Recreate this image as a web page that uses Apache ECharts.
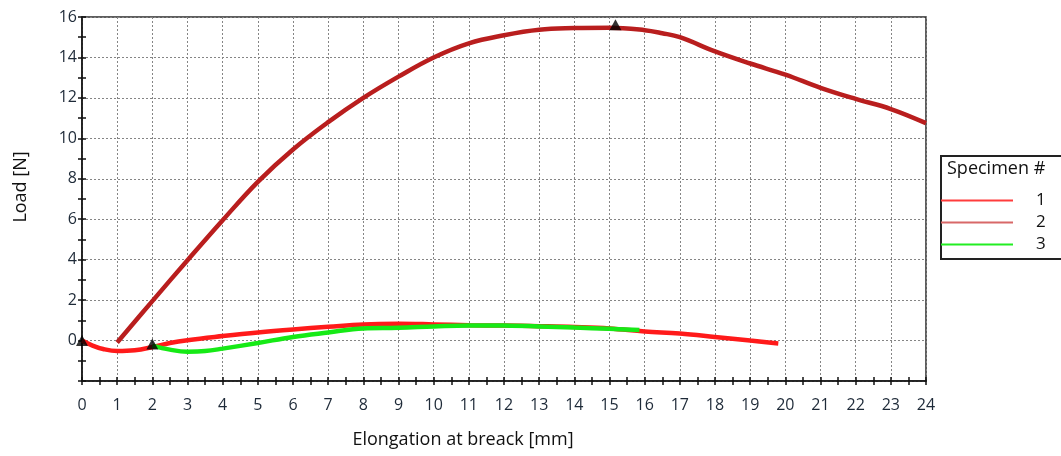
<!DOCTYPE html>
<html>
<head>
<meta charset="utf-8">
<script src="https://cdn.jsdelivr.net/npm/echarts@6/dist/echarts.min.js"></script>
<style>
  html, body { margin: 0; padding: 0; background: #fff; }
  #chart { width: 1061px; height: 456px; }
</style>
</head>
<body>
<div id="chart"></div>
<script>
// ---- data ----
const xTitle = 'Elongation at breack [mm]';
const yTitle = 'Load [N]';
const legendTitle = 'Specimen #';
const seriesNames = ['1', '2', '3'];

const specimen1 = [
  [0, 0], [0.3, -0.25], [0.6, -0.42], [1, -0.52], [1.5, -0.48], [2, -0.32], [2.5, -0.12],
  [3, 0.02], [4, 0.22], [5, 0.4], [6, 0.55], [7, 0.68], [8, 0.8], [9, 0.83], [10, 0.8],
  [11, 0.76], [12, 0.74], [13, 0.71], [14, 0.67], [15, 0.6], [16, 0.45], [17, 0.35],
  [18, 0.18], [19, 0.0], [19.8, -0.14]
];
const specimen2 = [
  [1, -0.1], [2, 1.95], [3, 3.97], [4, 5.95], [5, 7.85], [6, 9.45], [7, 10.8], [8, 12.0],
  [9, 13.05], [10, 14.0], [11, 14.7], [12, 15.1], [13, 15.37], [14, 15.45], [15, 15.47],
  [16, 15.35], [16.5, 15.2], [17, 15.0], [18, 14.3], [19, 13.7], [20, 13.15], [21, 12.5],
  [22, 11.95], [23, 11.45], [24, 10.75]
];
const specimen3 = [
  [2, -0.25], [2.5, -0.45], [3, -0.55], [3.5, -0.52], [4, -0.4], [5, -0.12], [6, 0.18],
  [7, 0.4], [8, 0.6], [9, 0.63], [10, 0.7], [11, 0.75], [12, 0.74], [13, 0.7], [14, 0.64],
  [15, 0.58], [15.85, 0.52]
];
const breakMarkers = [[0, 0], [2, -0.17], [15.17, 15.62]];

const xMin = 0, xMax = 24, xStep = 1;
const yMin = -2, yMax = 16, yStep = 2;

// ---- styles ----
const colors = ['#ff1a1a', '#b91e1e', '#16ea16'];
const legendColors = ['#ff3c3c', '#d86868', '#22ee22'];
const labelColor = '#1e2a38';
const fontFamily = '"Open Sans", "Noto Sans", sans-serif';

const chart = echarts.init(document.getElementById('chart'), null, { renderer: 'canvas' });

const gridRect = { left: 82, top: 17, right: 135, bottom: 75 };

const option = {
  animation: false,
  backgroundColor: '#ffffff',
  grid: [
    Object.assign({ show: true, borderColor: '#2a2a2a', borderWidth: 1.5, containLabel: false }, gridRect),
    Object.assign({ show: false, containLabel: false }, gridRect)
  ],
  xAxis: [
    {
      type: 'value', gridIndex: 0, min: xMin, max: xMax, interval: xStep,
      name: xTitle, nameLocation: 'middle', nameGap: 50,
      nameTextStyle: { color: '#111', fontSize: 18, fontFamily: fontFamily, padding: [0, 82, 0, 0] },
      axisLine: { show: true, onZero: false, lineStyle: { color: '#111', width: 1.5 } },
      axisTick: { show: true, inside: false, length: 4, lineStyle: { color: '#111', width: 1.5 } },
      minorTick: { show: true, splitNumber: 2, length: 4, lineStyle: { color: '#111', width: 1.5 } },
      axisLabel: { color: labelColor, fontSize: 16, fontFamily: fontFamily, margin: 16 },
      splitLine: { show: true, lineStyle: { color: '#858585', width: 1, type: [2, 2] } }
    },
    {
      type: 'value', gridIndex: 1, min: xMin, max: xMax, interval: xStep,
      axisLine: { show: false, onZero: false },
      axisTick: { show: true, inside: true, length: 4, lineStyle: { color: '#111', width: 1.5 } },
      minorTick: { show: true, splitNumber: 2, length: 4, lineStyle: { color: '#111', width: 1.5 } },
      axisLabel: { show: false },
      splitLine: { show: false }
    }
  ],
  yAxis: [
    {
      type: 'value', gridIndex: 0, min: yMin, max: yMax, interval: yStep,
      name: yTitle, nameLocation: 'middle', nameGap: 52,
      nameTextStyle: { color: '#111', fontSize: 18, fontFamily: fontFamily, padding: [0, 0, 0, 24] },
      axisLine: { show: true, onZero: false, lineStyle: { color: '#111', width: 1.5 } },
      axisTick: { show: true, inside: false, length: 4, lineStyle: { color: '#111', width: 1.5 } },
      minorTick: { show: true, splitNumber: 2, length: 4, lineStyle: { color: '#111', width: 1.5 } },
      axisLabel: {
        color: labelColor, fontSize: 16, fontFamily: fontFamily, margin: 5,
        formatter: function (v) { return v < 0 ? '' : String(v); }
      },
      splitLine: { show: true, lineStyle: { color: '#858585', width: 1, type: [2, 2] } }
    },
    {
      type: 'value', gridIndex: 1, min: yMin, max: yMax, interval: yStep,
      axisLine: { show: false, onZero: false },
      axisTick: { show: true, inside: true, length: 4, lineStyle: { color: '#111', width: 1.5 } },
      minorTick: { show: true, splitNumber: 2, length: 4, lineStyle: { color: '#111', width: 1.5 } },
      axisLabel: { show: false },
      splitLine: { show: false }
    }
  ],
  legend: {
    orient: 'vertical', left: 941, top: 192, padding: 0,
    itemWidth: 72, itemHeight: 14, itemGap: 5,
    icon: 'path://M0,0 L72,0 L72,2 L0,2 Z',
    data: seriesNames.map(function (n, i) {
      return { name: n, itemStyle: { color: legendColors[i] } };
    }),
    textStyle: { color: '#111', fontSize: 17, lineHeight: 14, fontFamily: fontFamily, padding: [0, 0, 0, 18] },
    selectedMode: false
  },
  graphic: [
    {
      type: 'rect', left: 940, top: 155, silent: true,
      shape: { width: 140, height: 103 },
      style: { fill: 'rgba(0,0,0,0)', stroke: '#222', lineWidth: 2 }
    },
    {
      type: 'text', left: 947, top: 160, silent: true,
      style: { text: legendTitle, fill: '#111', font: '18px ' + fontFamily }
    }
  ],
  series: [
    {
      name: seriesNames[0], type: 'line', data: specimen1, smooth: 0.4,
      xAxisIndex: 0, yAxisIndex: 0, symbol: 'none', z: 2,
      lineStyle: { color: colors[0], width: 4.5 }, itemStyle: { color: colors[0] }
    },
    {
      name: seriesNames[1], type: 'line', data: specimen2, smooth: 0.4,
      xAxisIndex: 0, yAxisIndex: 0, symbol: 'none', z: 2,
      lineStyle: { color: colors[1], width: 4.5 }, itemStyle: { color: colors[1] }
    },
    {
      name: seriesNames[2], type: 'line', data: specimen3, smooth: 0.4,
      xAxisIndex: 0, yAxisIndex: 0, symbol: 'none', z: 3,
      lineStyle: { color: colors[2], width: 4.5 }, itemStyle: { color: colors[2] }
    },
    {
      name: 'break', type: 'scatter', data: breakMarkers,
      xAxisIndex: 0, yAxisIndex: 0, z: 5,
      symbol: 'triangle', symbolSize: [12, 11],
      itemStyle: { color: '#000' }, silent: true
    }
  ]
};

chart.setOption(option);
</script>
</body>
</html>
